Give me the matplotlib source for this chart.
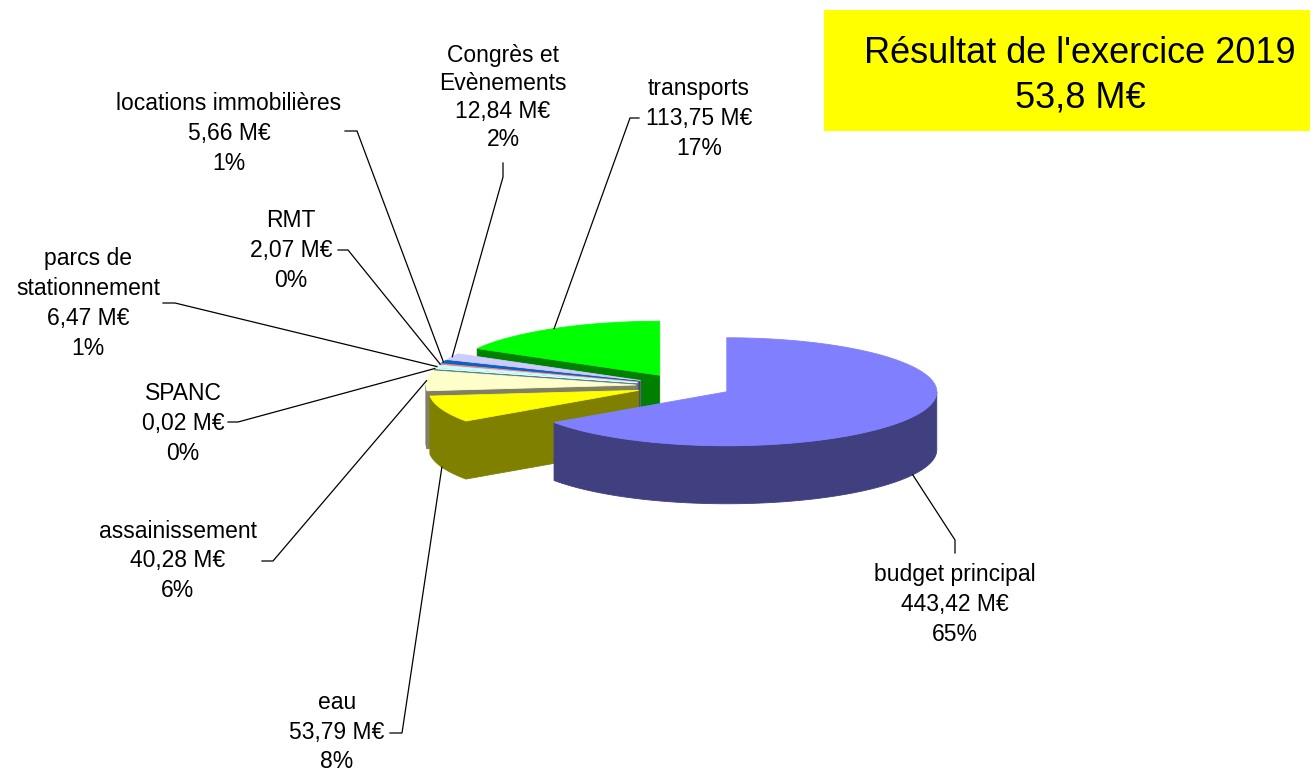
import numpy as np
import matplotlib
matplotlib.use("Agg")
import matplotlib.pyplot as plt
from matplotlib.patches import Polygon, Rectangle
from matplotlib.colors import to_rgb

plt.rcParams['font.family'] = ['Liberation Sans', 'DejaVu Sans']

# ---------------- data ----------------
categories = ["budget principal", "eau", "assainissement", "SPANC",
              "parcs de\nstationnement", "RMT", "locations immobilières",
              "Congrès et\nEvènements", "transports"]
values_meur = [443.42, 53.79, 40.28, 0.02, 6.47, 2.07, 5.66, 12.84, 113.75]
slice_colors = ["#8080FF", "#FFFF00", "#FFFFCC", "#CCFFFF", "#CCFFFF",
                "#FF8080", "#0066CC", "#CCCCFF", "#00FF00"]
title_lines = ["Résultat de l'exercice 2019", "53,8 M€"]

# ---------------- layout ----------------
W, H = 1315, 773
fig = plt.figure(figsize=(W / 100, H / 100), dpi=100)
ax = fig.add_axes([0, 0, 1, 1])
ax.set_xlim(0, W)
ax.set_ylim(H, 0)
ax.axis('off')

CX, CY = 684, 386       # pie centre (pixels)
RX, RY = 210, 54        # ellipse radii of the top face
DEPTH = 58              # thickness of the pie
EXPLODE = 0.23          # explosion, fraction of radius
LABEL_FS = 16.5

# label layout: centre x, first baseline, line step, connector points (bend, end)
label_layout = [
    dict(x=955, y0=581, step=30, conn=[(955, 540), (955, 553)]),        # budget principal
    dict(x=337, y0=709, step=29.5, conn=[(402, 733), (390, 733)]),      # eau
    dict(x=178, y0=538, step=29.5, conn=[(273, 561), (262, 561)]),      # assainissement
    dict(x=183, y0=400, step=30, conn=[(238, 422), (228, 422)]),        # SPANC
    dict(x=88, y0=265, step=30, conn=[(175, 303), (163, 303)]),         # parcs
    dict(x=291, y0=227, step=30, conn=[(348, 250), (338, 250)]),        # RMT
    dict(x=229, y0=110, step=30, conn=[(357, 131), (345, 131)]),        # locations
    dict(x=503, y0=62, step=28, conn=[(503, 177), (503, 163)]),         # Congrès
    dict(x=699, y0=95, step=30, conn=[(630, 118), (639, 118)]),         # transports
]

# ---------------- geometry ----------------
vals = np.array(values_meur, dtype=float)
total = vals.sum()
fracs = vals / total
cum = np.concatenate([[0.0], np.cumsum(fracs)])
t_start = 90.0 - cum[:-1] * 360.0   # larger angle
t_end = 90.0 - cum[1:] * 360.0      # smaller angle (clockwise)


def rim(c, a_deg, z=0.0):
    a = np.radians(a_deg)
    return np.column_stack([c[0] + RX * np.cos(a), c[1] - RY * np.sin(a) + z])


def dark(col, f=0.5):
    r, g, b = to_rgb(col)
    return (r * f, g * f, b * f)


def add_poly(pts, col, z):
    ax.add_patch(Polygon(pts, closed=True, facecolor=col, edgecolor=col,
                         linewidth=0.6, joinstyle='miter', zorder=z))


slices = []
for i in range(len(vals)):
    t1, t2 = t_start[i], t_end[i]
    mid = 0.5 * (t1 + t2)
    m = np.radians(mid)
    c = (CX + EXPLODE * RX * np.cos(m), CY - EXPLODE * RY * np.sin(m))
    slices.append(dict(i=i, t1=t1, t2=t2, mid=mid, c=c, key=-np.sin(m)))

order = sorted(slices, key=lambda s: s['key'])
zc = 2
for s in order:
    col = slice_colors[s['i']]
    dcol = dark(col)
    c = np.array(s['c'])
    t1, t2 = s['t1'], s['t2']
    # radial faces
    faces = []
    if np.cos(np.radians(t1)) < 0:
        faces.append(t1)
    if np.cos(np.radians(t2)) > 0:
        faces.append(t2)
    for t in faces:
        p = rim(c, [t])[0]
        quad = [c, p, p + [0, DEPTH], c + [0, DEPTH]]
        add_poly(quad, dcol, zc)
        zc += 1
    # outer front wall
    for k in range(-2, 2):
        lo, hi = 180 + 360 * k, 360 + 360 * k
        a, b = max(t2, lo), min(t1, hi)
        if b > a:
            n = max(2, int((b - a) * 2) + 2)
            angs = np.linspace(a, b, n)
            top = rim(c, angs)
            bot = rim(c, angs[::-1], DEPTH)
            add_poly(np.vstack([top, bot]), dcol, zc)
            zc += 1
    # top face
    n = max(2, int((t1 - t2) * 2) + 2)
    angs = np.linspace(t2, t1, n)
    top = np.vstack([[c], rim(c, angs)])
    add_poly(top, col, zc)
    zc += 1

# ---------------- labels and leader lines ----------------
for s in slices:
    i = s['i']
    lay = label_layout[i]
    v = values_meur[i]
    pct = int(round(v / total * 100))
    lines = categories[i].split("\n") + [f"{v:.2f}".replace('.', ',') + " M€", f"{pct}%"]
    for j, line in enumerate(lines):
        ax.text(lay['x'], lay['y0'] + j * lay['step'], line, ha='center', va='baseline',
                fontsize=LABEL_FS, color='black', zorder=50)
    anchor = rim(np.array(s['c']), [s['mid']])[0]
    if np.sin(np.radians(s['mid'])) < 0:
        anchor = anchor + [0, DEPTH]
    pts = np.vstack([anchor] + [np.array(p) for p in lay['conn']])
    ax.plot(pts[:, 0], pts[:, 1], color='black', lw=0.9, zorder=40,
            solid_joinstyle='miter')

# ---------------- title box ----------------
ax.add_patch(Rectangle((824, 10), 486, 121, facecolor='#FFFF00', edgecolor='none', zorder=60))
ax.text(1080, 63, title_lines[0], ha='center', va='baseline', fontsize=26, zorder=61)
ax.text(1080, 107, title_lines[1], ha='center', va='baseline', fontsize=26, zorder=61)

fig.savefig("out.png", dpi=100)
